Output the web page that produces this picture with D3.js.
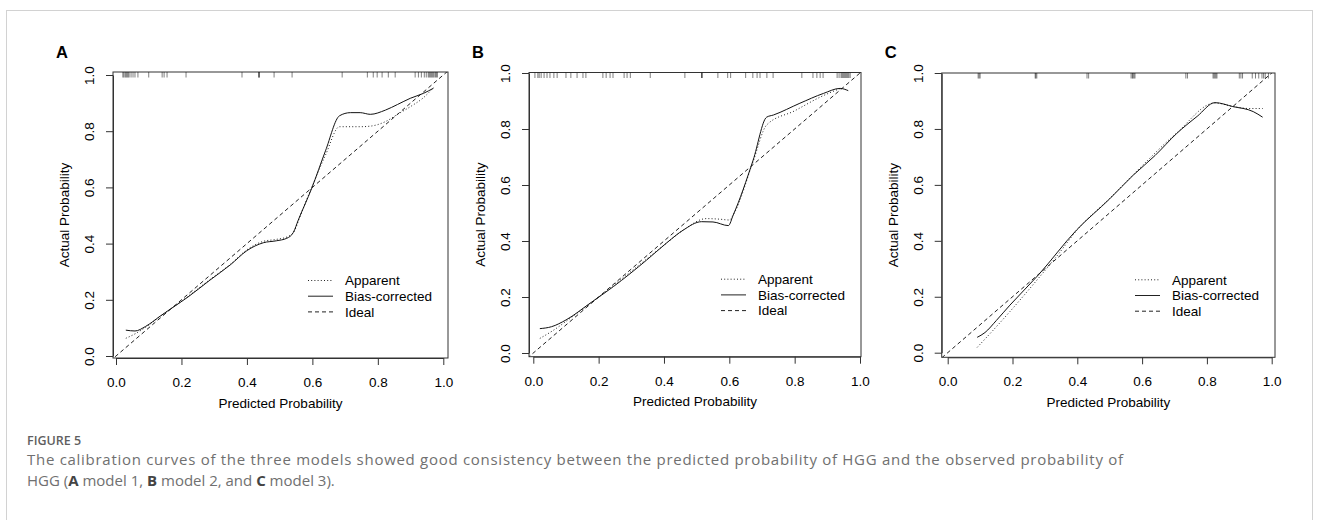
<!DOCTYPE html>
<html>
<head>
<meta charset="utf-8">
<script src="https://cdn.jsdelivr.net/npm/d3@7"></script>
<style>
  body { margin: 0; background: #fff; }
  .plot text { font-family: "Liberation Sans", Arial, sans-serif; fill: #000; }
  .caption { font-family: "Open Sans", "Noto Sans", sans-serif; }
</style>
</head>
<body>
<div id="chart"></div>
<script>
// tick values shared by both axes of every panel
const ticks = [0, 0.2, 0.4, 0.6, 0.8, 1.0];
const legendLabels = ["Apparent", "Bias-corrected", "Ideal"];

// Panel A (model 1) - as [predicted, actual]
const apparentA = [[0.03,0.063],[0.06,0.08],[0.1,0.11],[0.14,0.145],[0.2,0.195],[0.287,0.272],[0.35,0.327],[0.40,0.378],[0.45,0.408],[0.49,0.415],[0.525,0.425],[0.545,0.445],[0.56,0.49],[0.598,0.6],[0.64,0.715],[0.683,0.816],[0.72,0.816],[0.746,0.816],[0.777,0.818],[0.823,0.834],[0.86,0.86],[0.899,0.887],[0.94,0.92],[0.97,0.955]];
const biasA = [[0.03,0.092],[0.058,0.089],[0.09,0.105],[0.135,0.142],[0.165,0.166],[0.22,0.21],[0.287,0.27],[0.35,0.325],[0.40,0.375],[0.45,0.403],[0.49,0.41],[0.522,0.419],[0.542,0.44],[0.557,0.484],[0.598,0.597],[0.64,0.73],[0.683,0.855],[0.716,0.866],[0.746,0.866],[0.777,0.86],[0.823,0.875],[0.86,0.895],[0.899,0.917],[0.94,0.935],[0.97,0.953]];
const rugA = [0.021,0.024,0.028,0.031,0.034,0.037,0.04,0.046,0.052,0.058,0.067,0.10,0.141,0.147,0.156,0.214,0.385,0.437,0.437,0.437,0.483,0.538,0.691,0.768,0.786,0.798,0.813,0.832,0.853,0.914,0.924,0.933,0.942,0.948,0.954,0.957,0.96,0.963,0.966,0.969,0.972,0.976,0.979,0.982];

// Panel B (model 2)
const apparentB = [[0.02,0.052],[0.06,0.08],[0.12,0.13],[0.2,0.2],[0.3,0.292],[0.4,0.385],[0.46,0.44],[0.53,0.48],[0.57,0.478],[0.6,0.475],[0.615,0.5],[0.673,0.685],[0.714,0.814],[0.8,0.865],[0.88,0.915],[0.94,0.945]];
const biasB = [[0.02,0.087],[0.056,0.094],[0.1,0.118],[0.174,0.178],[0.245,0.237],[0.347,0.332],[0.41,0.395],[0.459,0.439],[0.515,0.469],[0.55,0.468],[0.597,0.455],[0.612,0.493],[0.673,0.689],[0.714,0.842],[0.735,0.85],[0.816,0.892],[0.888,0.927],[0.939,0.945],[0.964,0.937]];
const rugB = [0.005,0.014,0.018,0.024,0.033,0.042,0.051,0.063,0.073,0.10,0.115,0.134,0.152,0.161,0.213,0.223,0.235,0.244,0.278,0.287,0.297,0.358,0.464,0.516,0.516,0.516,0.565,0.595,0.604,0.65,0.672,0.685,0.694,0.715,0.734,0.822,0.856,0.868,0.878,0.887,0.93,0.936,0.942,0.945,0.948,0.951,0.954,0.957,0.96,0.963,0.966,0.97];

// Panel C (model 3)
const apparentC = [[0.091,0.019],[0.14,0.08],[0.192,0.147],[0.28,0.266],[0.34,0.35],[0.398,0.437],[0.5,0.552],[0.573,0.637],[0.707,0.786],[0.825,0.893],[0.882,0.88],[0.93,0.873],[0.972,0.873]];
const biasC = [[0.091,0.055],[0.115,0.072],[0.15,0.115],[0.192,0.17],[0.28,0.278],[0.398,0.439],[0.5,0.55],[0.573,0.635],[0.64,0.705],[0.707,0.784],[0.77,0.845],[0.825,0.894],[0.88,0.88],[0.943,0.862],[0.972,0.842]];
const rugC = [0.094,0.097,0.10,0.27,0.272,0.275,0.43,0.435,0.566,0.57,0.572,0.575,0.578,0.735,0.74,0.819,0.822,0.825,0.828,0.831,0.90,0.905,0.91,0.94,0.95,0.96,0.97,0.975,0.98,0.99];

const panels = [
  { label: "A", apparent: apparentA, bias: biasA, rug: rugA },
  { label: "B", apparent: apparentB, bias: biasB, rug: rugB },
  { label: "C", apparent: apparentC, bias: biasC, rug: rugC },
];

const layout = [
  { xr: [116, 443.3], yr: [356, 75], box: [113, 72, 448, 358] },
  { xr: [533.3, 860], yr: [353, 73], box: [529, 72.5, 861, 356.7] },
  { xr: [947.7, 1271.7], yr: [352.7, 73], box: [941.7, 73, 1275, 357.3] },
];

const styles = {
  apparent: "1,2.2",
  bias: null,
  ideal: "4,3",
};

const fontSize = 13.5;

const svg = d3
  .select("#chart")
  .append("svg")
  .attr("width", 1319)
  .attr("height", 520);

// light frame around the whole figure
svg
  .append("rect")
  .attr("x", 6.5)
  .attr("y", 10.5)
  .attr("width", 1306)
  .attr("height", 530)
  .attr("fill", "none")
  .attr("stroke", "#d2d2d2");

const fmt = d3.format(".1f");

panels.forEach((p, i) => {
  const L = layout[i];
  const [bx0, by0, bx1, by1] = L.box;
  const x = d3.scaleLinear().domain([0, 1]).range(L.xr);
  const y = d3.scaleLinear().domain([0, 1]).range(L.yr);

  const g = svg.append("g").attr("class", "plot");

  g.append("clipPath")
    .attr("id", "clip" + i)
    .append("rect")
    .attr("x", bx0)
    .attr("y", by0)
    .attr("width", bx1 - bx0)
    .attr("height", by1 - by0);

  // X axis
  const xAxis = g
    .append("g")
    .attr("transform", `translate(0,${by1})`)
    .call(d3.axisBottom(x).tickValues(ticks).tickFormat(fmt).tickSize(7).tickSizeOuter(0).tickPadding(12.5));
  xAxis.selectAll("text").attr("font-size", fontSize).attr("fill", "#000");
  xAxis.selectAll("line,path").attr("stroke", "#333");

  // Y axis, labels parallel to the axis like base R
  const yAxis = g
    .append("g")
    .attr("transform", `translate(${bx0},0)`)
    .call(d3.axisLeft(y).tickValues(ticks).tickFormat(fmt).tickSize(7).tickSizeOuter(0));
  yAxis
    .selectAll("text")
    .attr("x", null)
    .attr("dy", null)
    .attr("text-anchor", "middle")
    .attr("font-size", fontSize)
    .attr("fill", "#000")
    .attr("transform", "translate(-19,0) rotate(-90)");
  yAxis.selectAll("line,path").attr("stroke", "#333");

  // plot box
  g.append("rect")
    .attr("x", bx0)
    .attr("y", by0)
    .attr("width", bx1 - bx0)
    .attr("height", by1 - by0)
    .attr("fill", "none")
    .attr("stroke", "#333");

  // axis titles
  g.append("text")
    .attr("x", (bx0 + bx1) / 2)
    .attr("y", by1 + 49.5)
    .attr("text-anchor", "middle")
    .attr("font-size", fontSize)
    .text("Predicted Probability");

  g.append("text")
    .attr("transform", `translate(${bx0 - 44},${(by0 + by1) / 2}) rotate(-90)`)
    .attr("text-anchor", "middle")
    .attr("font-size", fontSize)
    .text("Actual Probability");

  // panel letter
  g.append("text")
    .attr("x", bx0 - 57)
    .attr("y", 58)
    .attr("font-size", 16.5)
    .attr("font-weight", "bold")
    .text(p.label);

  const plot = g.append("g").attr("clip-path", `url(#clip${i})`);

  // rug of predicted probabilities along the top
  plot
    .selectAll(".rug")
    .data(p.rug)
    .enter()
    .append("line")
    .attr("x1", (d) => x(d))
    .attr("x2", (d) => x(d))
    .attr("y1", by0)
    .attr("y2", by0 + 5.5)
    .attr("stroke", "#000")
    .attr("stroke-opacity", 0.5);

  // ideal line
  plot
    .append("line")
    .attr("x1", x(-0.1))
    .attr("y1", y(-0.1))
    .attr("x2", x(1.1))
    .attr("y2", y(1.1))
    .attr("stroke", "#222")
    .attr("stroke-dasharray", styles.ideal);

  const line = d3
    .line()
    .x((d) => x(d[0]))
    .y((d) => y(d[1]))
    .curve(d3.curveMonotoneX);

  plot
    .append("path")
    .attr("d", line(p.apparent))
    .attr("fill", "none")
    .attr("stroke", "#222")
    .attr("stroke-dasharray", styles.apparent);

  plot
    .append("path")
    .attr("d", line(p.bias))
    .attr("fill", "none")
    .attr("stroke", "#111");

  // legend
  const leg = g
    .selectAll(".leg")
    .data(legendLabels)
    .enter()
    .append("g")
    .attr("transform", (d, k) => `translate(${bx1 - 140},${by1 - 77.5 + k * 15.7})`);
  leg
    .append("line")
    .attr("x1", 0)
    .attr("x2", 25)
    .attr("stroke", "#222")
    .attr("stroke-dasharray", (d, k) => [styles.apparent, styles.bias, styles.ideal][k]);
  leg
    .append("text")
    .attr("x", 37)
    .attr("dy", "0.36em")
    .attr("font-size", fontSize)
    .text((d) => d);
});

// caption under the figure
const cap = svg.append("g").attr("class", "caption");
cap
  .append("text")
  .attr("x", 27)
  .attr("y", 445)
  .attr("font-size", 12.5)
  .attr("font-weight", 600)
  .attr("fill", "#5f5f5f")
  .text("FIGURE 5");

cap
  .append("text")
  .attr("x", 27)
  .attr("y", 465)
  .attr("font-size", 15)
  .attr("fill", "#707070")
  .attr("textLength", 1096)
  .attr("lengthAdjust", "spacing")
  .text("The calibration curves of the three models showed good consistency between the predicted probability of HGG and the observed probability of");

const line2 = cap
  .append("text")
  .attr("x", 27)
  .attr("y", 486)
  .attr("font-size", 15)
  .attr("fill", "#707070");
[["HGG (", false], ["A", true], [" model 1, ", false], ["B", true], [" model 2, and ", false], ["C", true], [" model 3).", false]].forEach(([t, b]) => {
  line2
    .append("tspan")
    .attr("font-weight", b ? 700 : null)
    .attr("fill", b ? "#444" : null)
    .text(t);
});
</script>
</body>
</html>
